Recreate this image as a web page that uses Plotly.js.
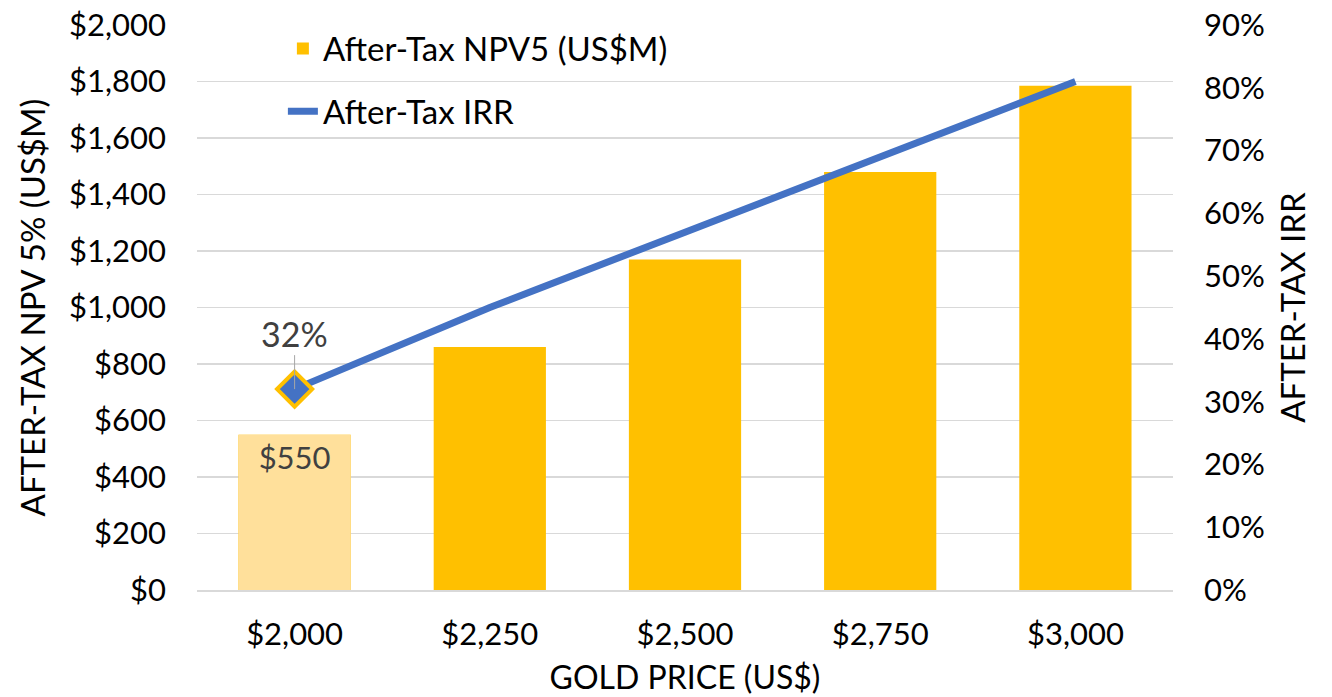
<!DOCTYPE html>
<html>
<head>
<meta charset="utf-8">
<script src="https://cdn.plot.ly/plotly-3.0.1.min.js"></script>
<style>html,body{margin:0;padding:0;background:#fff;}#chart{width:1332px;height:697px;}</style>
</head>
<body>
<div id="chart"></div>
<script>
const goldPrices = ['$2,000', '$2,250', '$2,500', '$2,750', '$3,000'];
const npvValues = [550, 860, 1170, 1480, 1785];
const irrValues = [32, 45, 57, 69, 81];
const npvLabel = '$550';
const irrLabel = '32%';
const npvTicks = [0, 200, 400, 600, 800, 1000, 1200, 1400, 1600, 1800, 2000];
const irrTicks = [0, 10, 20, 30, 40, 50, 60, 70, 80, 90];

const FONT = 'Lato, "Open Sans", sans-serif';
const GOLD = '#FFC000';
const LIGHT_GOLD = '#FFE09B';
const BLUE = '#4472C4';

const traces = [
  {
    type: 'bar',
    name: 'After-Tax NPV5 (US$M)',
    x: goldPrices,
    y: npvValues,
    marker: {color: GOLD},
    legendgroup: 'a',
    hoverinfo: 'x+y'
  },
  {
    type: 'bar',
    name: 'base case',
    x: [goldPrices[0]],
    y: [npvValues[0]],
    marker: {color: LIGHT_GOLD},
    text: [npvLabel],
    textposition: 'inside',
    insidetextanchor: 'end',
    textfont: {family: FONT, size: 31, color: '#404040'},
    showlegend: false,
    hoverinfo: 'x+y'
  },
  {
    type: 'scatter',
    mode: 'lines',
    name: 'After-Tax IRR',
    x: goldPrices,
    y: irrValues,
    yaxis: 'y2',
    line: {color: BLUE, width: 7},
    legendgroup: 'b',
    hoverinfo: 'x+y'
  },
  {
    type: 'scatter',
    mode: 'markers',
    name: 'base IRR',
    x: [goldPrices[0]],
    y: [irrValues[0]],
    yaxis: 'y2',
    marker: {symbol: 'diamond', size: 27, color: BLUE, line: {color: GOLD, width: 4}},
    showlegend: false,
    hoverinfo: 'x+y'
  }
];

const layout = {
  width: 1332,
  height: 697,
  margin: {l: 197, r: 159, t: 25, b: 107},
  paper_bgcolor: '#ffffff',
  plot_bgcolor: '#ffffff',
  font: {family: FONT, size: 28, color: '#000000'},
  barmode: 'overlay',
  bargap: 0.425,
  showlegend: true,
  legend: {
    x: 0.088, y: 1.008, xanchor: 'left', yanchor: 'top',
    bgcolor: 'rgba(0,0,0,0)',
    font: {family: FONT, size: 33, color: '#000000'},
    traceorder: 'grouped',
    tracegroupgap: 17,
    itemwidth: 30
  },
  xaxis: {
    type: 'category',
    showgrid: false,
    showline: true,
    linecolor: '#D9D9D9',
    linewidth: 1.5,
    ticks: '',
    ticklabelstandoff: 16,
    tickfont: {family: FONT, size: 31, color: '#000000'},
    title: {text: 'GOLD PRICE (US$)', font: {family: FONT, size: 32, color: '#000000'}, standoff: 16}
  },
  yaxis: {
    range: [0, 2000],
    tickmode: 'array',
    tickvals: npvTicks,
    tickformat: '$,.0f',
    showgrid: true,
    gridcolor: '#D9D9D9',
    gridwidth: 1.5,
    zeroline: false,
    ticks: '',
    ticklabelstandoff: 30,
    tickfont: {family: FONT, size: 31, color: '#000000'},
    title: {text: 'AFTER-TAX NPV 5% (US$M)', font: {family: FONT, size: 33, color: '#000000'}, standoff: 13}
  },
  yaxis2: {
    overlaying: 'y',
    side: 'right',
    range: [0, 90],
    tickmode: 'array',
    tickvals: irrTicks,
    ticktext: irrTicks.map(v => v + '%'),
    showgrid: false,
    zeroline: false,
    ticks: '',
    ticklabelstandoff: 30,
    tickfont: {family: FONT, size: 31, color: '#000000'},
    title: {text: 'AFTER-TAX IRR', font: {family: FONT, size: 33, color: '#000000'}, standoff: 18}
  },
  annotations: [
    {
      x: goldPrices[0], y: irrValues[0], xref: 'x', yref: 'y2',
      text: irrLabel,
      showarrow: true, arrowhead: 0, arrowwidth: 1, arrowcolor: '#A6A6A6',
      ax: 0, ay: -56, standoff: 0,
      font: {family: FONT, size: 34, color: '#404040'}
    }
  ]
};

Plotly.newPlot('chart', traces, layout, {displayModeBar: false, staticPlot: true});
</script>
</body>
</html>
